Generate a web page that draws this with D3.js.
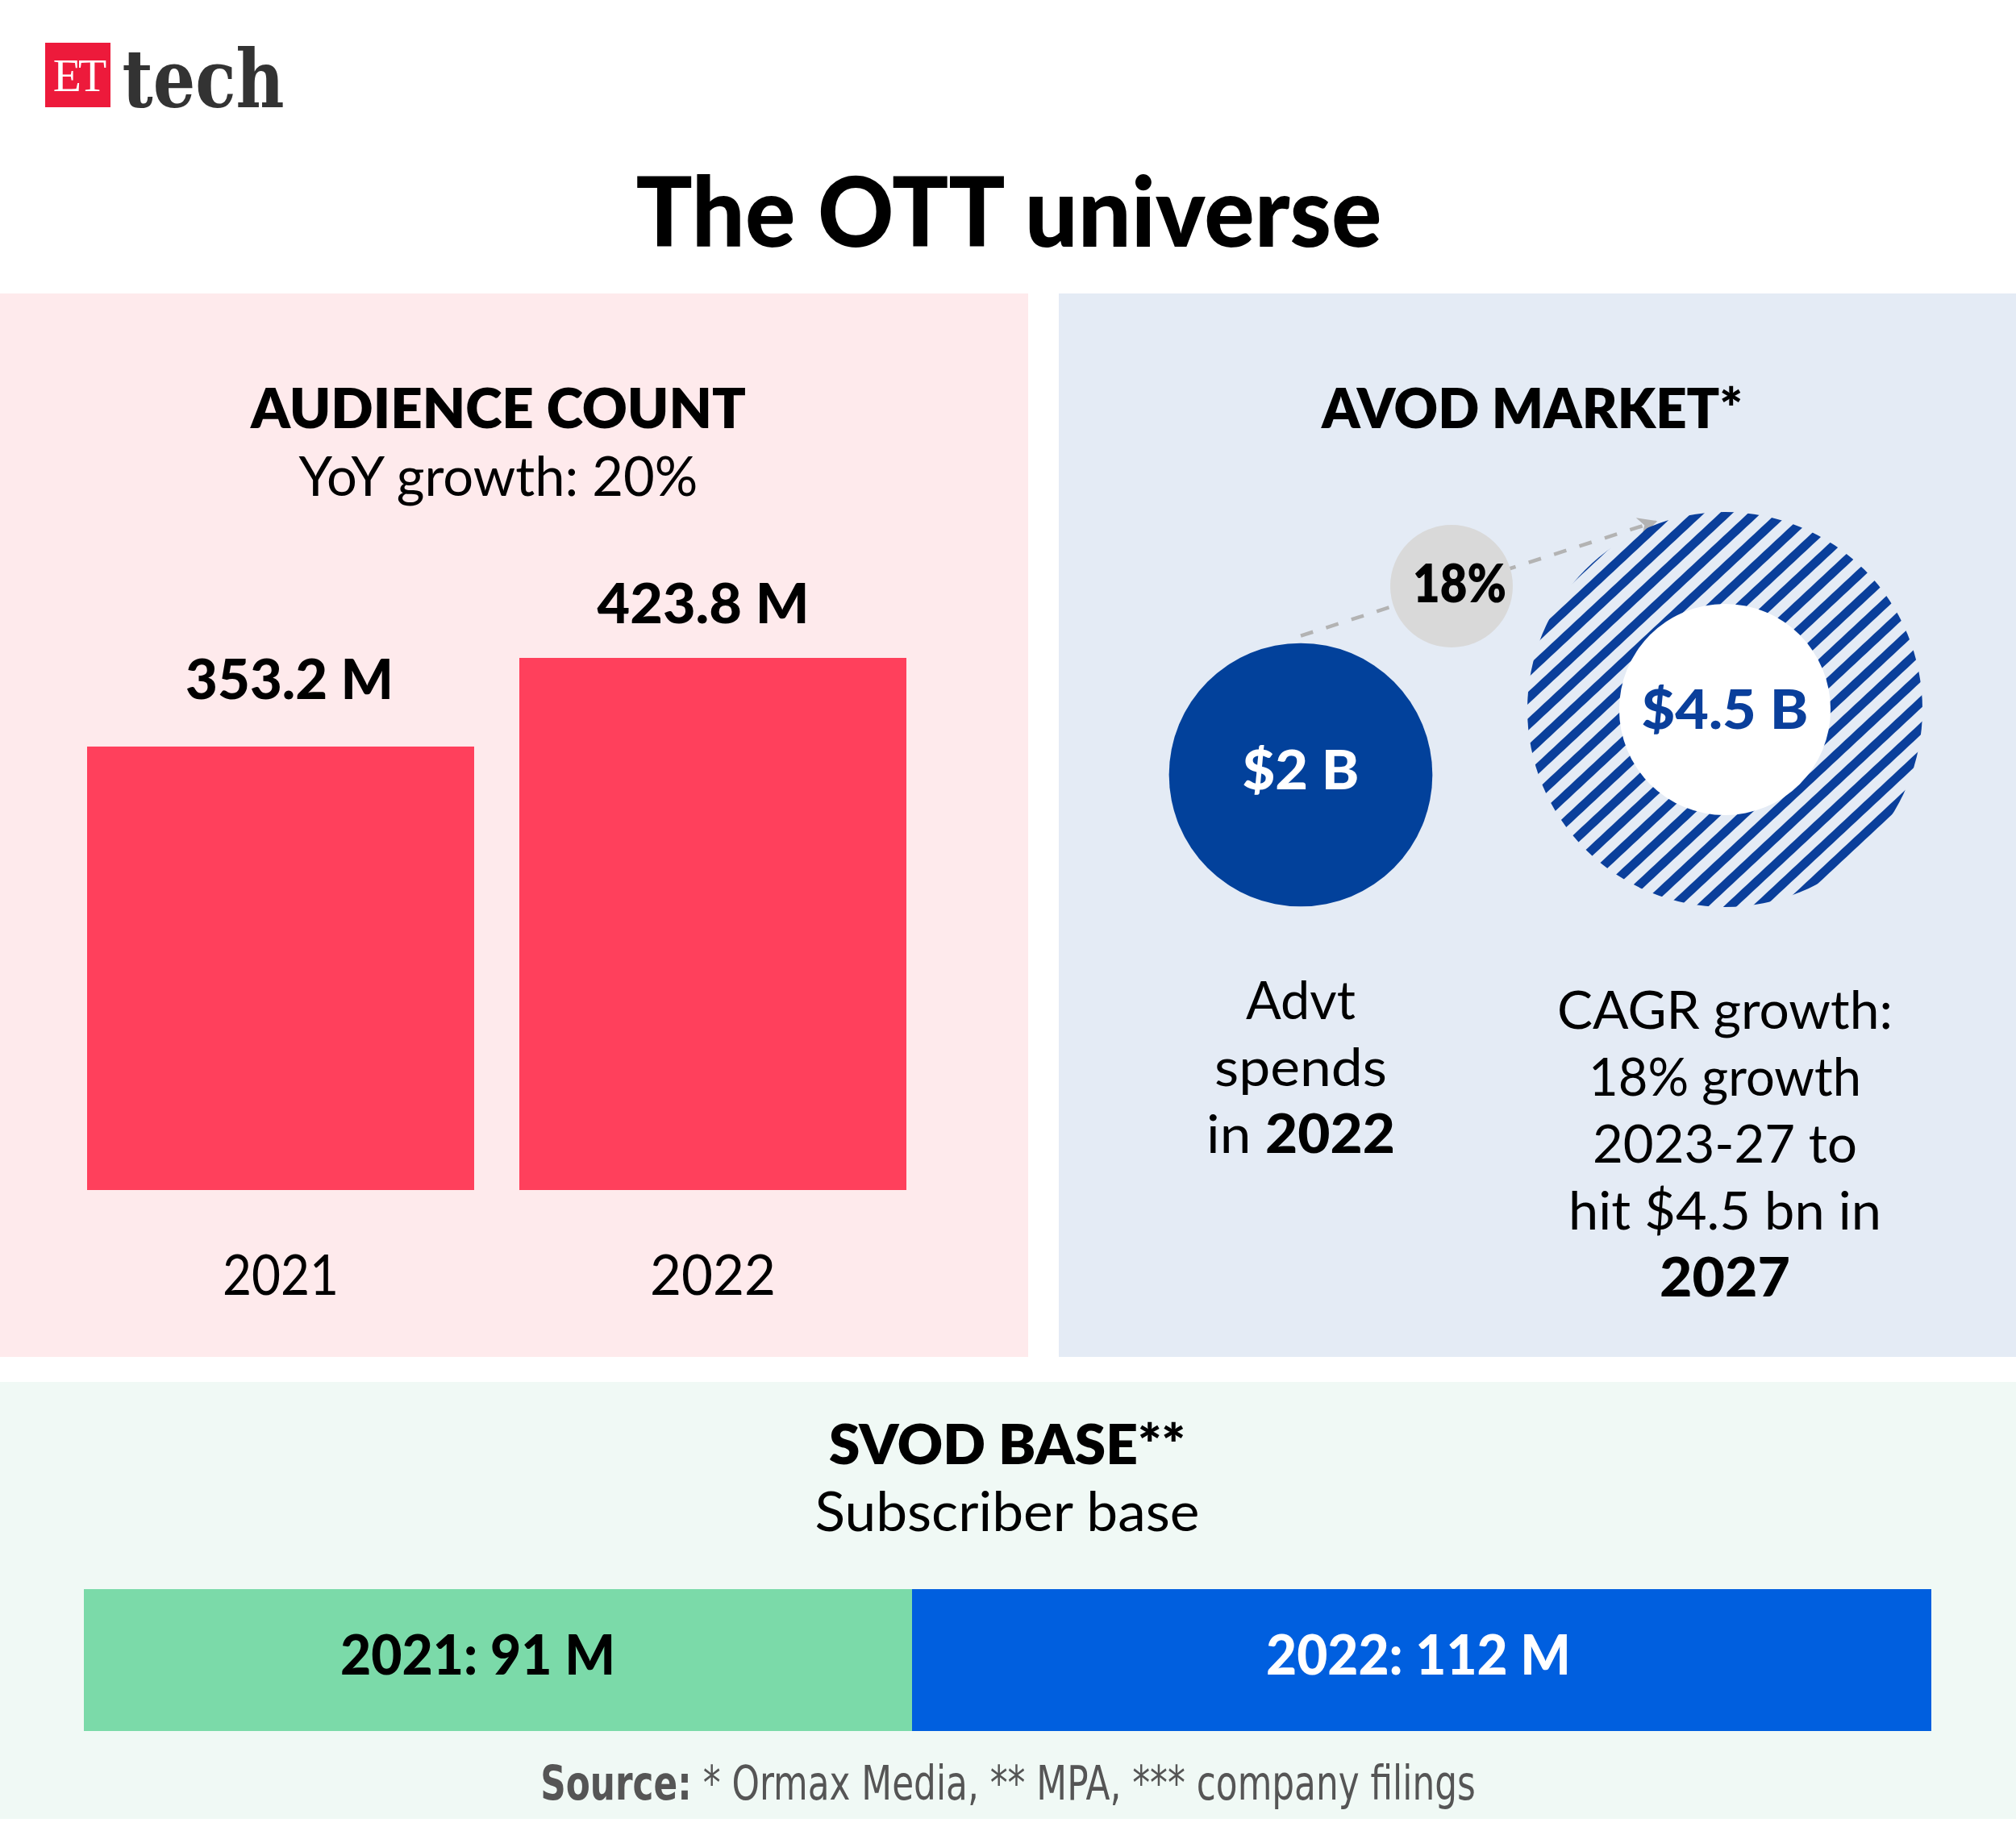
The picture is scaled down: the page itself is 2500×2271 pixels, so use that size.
<!DOCTYPE html>
<html><head><meta charset="utf-8">
<script src="https://cdn.jsdelivr.net/npm/d3@7"></script>
<style>body{margin:0;background:#fff}svg{display:block}</style>
</head><body>
<script>
// ---- data ----
const audienceYears = ["2021", "2022"];
const audienceValues = [353.2, 423.8];
const audienceLabels = ["353.2 M", "423.8 M"];
const avodValues = [2, 4.5];
const avodLabels = ["$2 B", "$4.5 B"];
const avodGrowth = "18%";
const avodNotesLeft = [["Advt"], ["spends"], ["in ", "2022"]];
const avodNotesRight = [["CAGR growth:"], ["18% growth"], ["2023-27 to"], ["hit $4.5 bn in"], ["", "2027"]];
const svodYears = ["2021", "2022"];
const svodValues = [91, 112];
const svodLabels = ["2021: 91 M", "2022: 112 M"];

function draw() {
  const W = 2500, H = 2271;
  const svg = d3.select("body").append("svg").attr("width", W).attr("height", H);
  svg.append("rect").attr("width", W).attr("height", H).attr("fill", "#fff");

  const SANS = "Lato, 'Noto Sans', sans-serif";
  function txt(g, x, y, s, size, weight, fill, fam) {
    return g.append("text").attr("x", x).attr("y", y).attr("text-anchor", "middle")
      .style("font-family", fam || SANS).style("font-size", size + "px")
      .style("font-weight", weight).attr("fill", fill || "#000").text(s);
  }
  function fit(t, w) {
    const bb = t.node().getBBox();
    if (!bb.width) return t;
    const k = w / bb.width, cx = bb.x + bb.width / 2;
    t.attr("transform", `translate(${cx},0) scale(${k},1) translate(${-cx},0)`);
    return t;
  }

  const defs = svg.append("defs");
  const pat = defs.append("pattern").attr("id", "hatch").attr("patternUnits", "userSpaceOnUse")
    .attr("width", 24).attr("height", 24).attr("patternTransform", "rotate(-43)");
  pat.append("rect").attr("x", 0).attr("y", 0).attr("width", 24).attr("height", 11).attr("fill", "#0a3f9b");
  defs.append("marker").attr("id", "arrow").attr("viewBox", "0 0 10 10").attr("refX", 9).attr("refY", 5)
    .attr("markerUnits", "userSpaceOnUse").attr("markerWidth", 28).attr("markerHeight", 24).attr("orient", "auto")
    .append("path").attr("d", "M0,0 L10,5 L0,10 L3,5 Z").attr("fill", "#b3b3b3");

  // ---- logo ----
  const logo = svg.append("g");
  logo.append("rect").attr("x", 56).attr("y", 53).attr("width", 81).attr("height", 80).attr("fill", "#ed1a3b");
  fit(txt(logo, 97, 113, "ET", 58, 400, "#fff", "'Liberation Serif', serif").style("letter-spacing", "-4px"), 66);
  fit(txt(logo, 252, 133, "tech", 100, 700, "#333", "'DejaVu Serif', serif"), 201);

  // ---- title ----
  fit(txt(svg, 1251, 306, "The OTT universe", 120, 900), 925);

  // ---- panels ----
  svg.append("rect").attr("x", 0).attr("y", 364).attr("width", 1275).attr("height", 1319).attr("fill", "#feeaec");
  svg.append("rect").attr("x", 1313).attr("y", 364).attr("width", 1187).attr("height", 1319).attr("fill", "#e4ebf5");
  svg.append("rect").attr("x", 0).attr("y", 1714).attr("width", 2500).attr("height", 542).attr("fill", "#f0f9f5");

  // ---- audience count ----
  const aud = svg.append("g");
  fit(txt(aud, 618, 531, "AUDIENCE COUNT", 68, 800), 615);
  fit(txt(aud, 618, 615, "YoY growth: 20%", 68, 400), 495);
  const x = d3.scaleBand().domain(audienceYears).range([108, 1124]).paddingInner(56 / 536).paddingOuter(0);
  const y = d3.scaleLinear().domain([0, d3.max(audienceValues)]).range([1476, 816]);
  aud.selectAll("rect.bar").data(audienceValues).join("rect").attr("class", "bar")
    .attr("x", (d, i) => x(audienceYears[i])).attr("width", x.bandwidth())
    .attr("y", d => y(d)).attr("height", d => y(0) - y(d)).attr("fill", "#ff405c");
  const labW = [258, 263], labDx = [11, -12], labDy = [-59, -43];
  audienceValues.forEach((d, i) => {
    fit(txt(aud, x(audienceYears[i]) + x.bandwidth() / 2 + labDx[i], y(d) + labDy[i], audienceLabels[i], 68, 900), labW[i]);
  });
  const yrW = [144, 156];
  audienceYears.forEach((s, i) => {
    fit(txt(aud, x(s) + x.bandwidth() / 2, 1606, s, 70, 400), yrW[i]);
  });

  // ---- AVOD market ----
  const av = svg.append("g");
  fit(txt(av, 1900, 531, "AVOD MARKET*", 68, 800), 523);
  const r = d3.scaleSqrt().domain([0, d3.max(avodValues)]).range([0, 245]);
  const centers = [[1613, 961], [2139, 880]];
  const r1 = r(avodValues[0]);
  av.append("line").attr("x1", centers[0][0]).attr("y1", centers[0][1] - r1 - 9)
    .attr("x2", 2053).attr("y2", 647)
    .attr("stroke", "#b3b3b3").attr("stroke-width", 4.5).attr("stroke-dasharray", "16 17")
    .attr("marker-end", "url(#arrow)");
  av.append("circle").attr("cx", centers[0][0]).attr("cy", centers[0][1]).attr("r", r1).attr("fill", "#02419b");
  av.append("circle").attr("cx", centers[1][0]).attr("cy", centers[1][1]).attr("r", r(avodValues[1])).attr("fill", "url(#hatch)");
  av.append("circle").attr("cx", centers[1][0]).attr("cy", centers[1][1]).attr("r", r(avodValues[1]) * 0.535).attr("fill", "#fff");
  fit(txt(av, centers[0][0], 979, avodLabels[0], 66, 900, "#fff"), 145);
  fit(txt(av, centers[1][0], 904, avodLabels[1], 66, 900, "#0a3f9b"), 207);
  av.append("circle").attr("cx", 1800).attr("cy", 727).attr("r", 76).attr("fill", "#d9d9d9");
  fit(txt(av, 1810, 747, avodGrowth, 66, 800), 116);

  function multiline(g, cx, y0, dy, lines, widths) {
    lines.forEach((parts, i) => {
      const t = g.append("text").attr("x", cx).attr("y", y0 + i * dy).attr("text-anchor", "middle")
        .style("font-family", SANS).style("font-size", "66px").attr("fill", "#000");
      t.append("tspan").style("font-weight", 400).text(parts[0]);
      if (parts[1]) t.append("tspan").style("font-weight", 900).text(parts[1]);
      fit(t, widths[i]);
    });
  }
  multiline(av, centers[0][0], 1264, 83, avodNotesLeft, [136, 214, 234]);
  multiline(av, centers[1][0], 1276, 83, avodNotesRight, [416, 338, 328, 388, 162]);

  // ---- SVOD base ----
  const sv = svg.append("g");
  fit(txt(sv, 1249, 1816, "SVOD BASE**", 68, 800), 442);
  fit(txt(sv, 1249, 1899, "Subscriber base", 68, 400), 477);
  const sx = d3.scaleLinear().domain([0, d3.sum(svodValues)]).range([104, 2395]);
  const cum = d3.cumsum([0].concat(svodValues));
  const svCol = ["#7bdaa9", "#005fdf"], svTxt = ["#000", "#fff"], svW = [341, 378], svDx = [-25, -4];
  svodValues.forEach((v, i) => {
    sv.append("rect").attr("x", sx(cum[i])).attr("y", 1971).attr("width", sx(cum[i + 1]) - sx(cum[i]))
      .attr("height", 176).attr("fill", svCol[i]);
    fit(txt(sv, (sx(cum[i]) + sx(cum[i + 1])) / 2 + svDx[i], 2077, svodLabels[i], 68, 900, svTxt[i]), svW[i]);
  });

  // ---- source ----
  const src = svg.append("text").attr("x", 1250).attr("y", 2232).attr("text-anchor", "middle")
    .style("font-family", "'Liberation Sans Narrow', 'DejaVu Sans Condensed', sans-serif")
    .style("font-size", "58px").attr("fill", "#555");
  src.append("tspan").style("font-weight", 700).text("Source:");
  src.append("tspan").style("font-weight", 400).text(" * Ormax Media, ** MPA, *** company filings");
  fit(src, 1160);
}
(document.fonts && document.fonts.ready ? document.fonts.ready : Promise.resolve()).then(draw);
</script>
</body></html>
